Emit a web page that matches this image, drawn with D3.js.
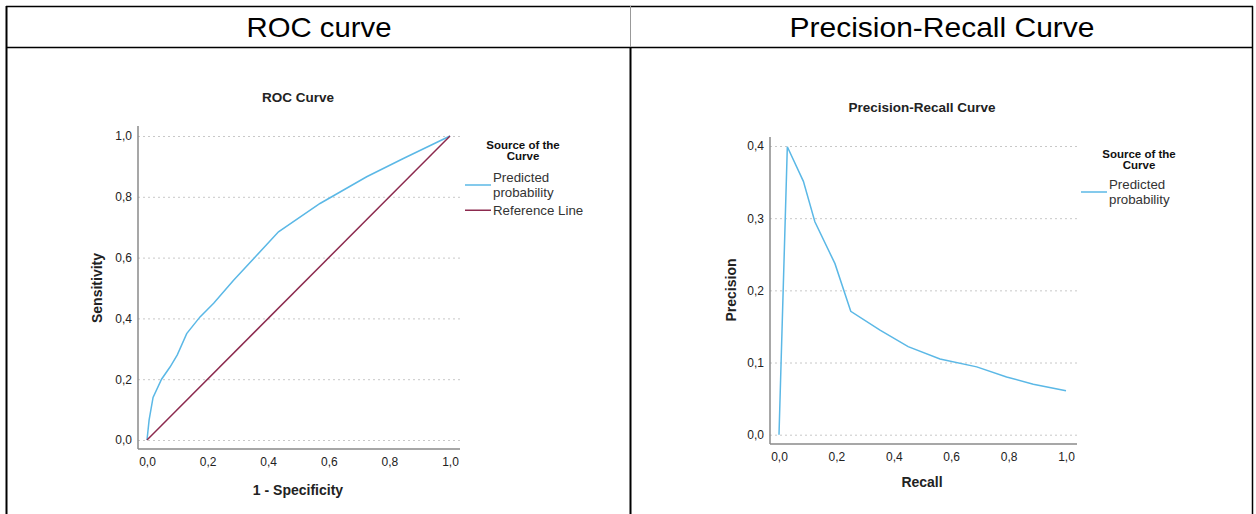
<!DOCTYPE html>
<html lang="en">
<head>
  <meta charset="UTF-8">
  <title>ROC and Precision-Recall</title>
  <script src="https://d3js.org/d3.v7.min.js"></script>
  <style>
    body { margin: 0; background: #fff; }
    text { font-family: "Liberation Sans", Arial, sans-serif; }
  </style>
</head>
<body>
<div class="main"></div>
<script>

  // ROC curve values (1 - specificity, sensitivity)
  var rocX = [0, 0.007, 0.02, 0.048, 0.076, 0.1, 0.131, 0.175, 0.22, 0.285, 0.36, 0.434, 0.571, 0.725, 0.846, 1.0];
  var rocY = [0, 0.066, 0.14, 0.2, 0.24, 0.28, 0.35, 0.405, 0.45, 0.525, 0.605, 0.685, 0.778, 0.866, 0.926, 1.0];
  var refX = [0, 1];
  var refY = [0, 1];

  // precision-recall values
  var prRecall = [0, 0.029, 0.085, 0.125, 0.195, 0.25, 0.352, 0.45, 0.561, 0.689, 0.793, 0.886, 1.0];
  var prPrecision = [0, 0.399, 0.351, 0.295, 0.237, 0.171, 0.145, 0.122, 0.105, 0.094, 0.080, 0.070, 0.061];

  var rocTicks = [0, 0.2, 0.4, 0.6, 0.8, 1.0];
  var prYTicks = [0, 0.1, 0.2, 0.3, 0.4];
  var prXTicks = [0, 0.2, 0.4, 0.6, 0.8, 1.0];

  var headers = ["ROC curve", "Precision-Recall Curve"];

  var blue = "#5bb8e6", maroon = "#8c2a4e";
  var fmt = function (d) { return d3.format(".1f")(d).replace(".", ","); };

  var svg = d3.select(".main").append("svg")
          .attr("width", 1256).attr("height", 514)
          .style("display", "block");

  // table borders
  var tbl = svg.append("g");
  tbl.append("line").attr("x1", 6).attr("x2", 1253).attr("y1", 6.5).attr("y2", 6.5).attr("stroke", "#000").attr("stroke-width", 1.5);
  tbl.append("line").attr("x1", 6).attr("x2", 1253).attr("y1", 47.5).attr("y2", 47.5).attr("stroke", "#000").attr("stroke-width", 1.5);
  tbl.append("line").attr("x1", 6.5).attr("x2", 6.5).attr("y1", 6).attr("y2", 514).attr("stroke", "#000").attr("stroke-width", 2);
  tbl.append("line").attr("x1", 1252.5).attr("x2", 1252.5).attr("y1", 6).attr("y2", 514).attr("stroke", "#000").attr("stroke-width", 1.5);
  tbl.append("line").attr("x1", 630.5).attr("x2", 630.5).attr("y1", 6).attr("y2", 47).attr("stroke", "#999").attr("stroke-width", 1);
  tbl.append("line").attr("x1", 630.5).attr("x2", 630.5).attr("y1", 47).attr("y2", 514).attr("stroke", "#000").attr("stroke-width", 2);

  tbl.selectAll(".hdr").data(headers).join("text")
          .attr("class", "hdr")
          .attr("x", function (d, i) { return i == 0 ? 319 : 942; })
          .attr("y", 37)
          .attr("text-anchor", "middle")
          .style("font-size", "28px")
          .attr("textLength", function (d, i) { return i == 0 ? 145 : 305; })
          .attr("lengthAdjust", "spacingAndGlyphs")
          .text(function (d) { return d; });

  function drawPanel(cfg) {
    var g = svg.append("g");
    var x = d3.scaleLinear().domain([0, 1]).range(cfg.xRange);
    var y = d3.scaleLinear().domain(cfg.yDomain).range(cfg.yRange);

    // dotted gridlines
    g.append("g")
            .attr("transform", "translate(" + cfg.axisX + ",0)")
            .call(d3.axisLeft(y).tickValues(cfg.yTicks).tickSize(-(cfg.gridEnd - cfg.axisX)).tickFormat(""))
            .call(function (a) { a.select(".domain").remove(); })
            .selectAll("line").attr("stroke", "#c8c8c8").attr("stroke-dasharray", "2,3");

    // y tick labels
    g.append("g")
            .attr("transform", "translate(" + (cfg.axisX - 6) + ",0)")
            .call(d3.axisLeft(y).tickValues(cfg.yTicks).tickSize(0).tickPadding(0).tickFormat(fmt))
            .call(function (a) { a.select(".domain").remove(); })
            .selectAll("text").style("font-size", "12px").attr("fill", "#222")
            .style("font-family", "'Liberation Sans', Arial, sans-serif");

    // x tick labels
    g.append("g")
            .attr("transform", "translate(0," + (cfg.axisY + 8) + ")")
            .call(d3.axisBottom(x).tickValues(cfg.xTicks).tickSize(0).tickPadding(0).tickFormat(fmt))
            .call(function (a) { a.select(".domain").remove(); })
            .selectAll("text").style("font-size", "12px").attr("fill", "#222")
            .style("font-family", "'Liberation Sans', Arial, sans-serif");

    // axis lines
    g.append("line").attr("x1", cfg.axisX).attr("x2", cfg.axisX).attr("y1", cfg.axisTop).attr("y2", cfg.axisY)
            .attr("stroke", "#8a8a8a").attr("stroke-width", 1.5);
    g.append("line").attr("x1", cfg.axisX).attr("x2", cfg.gridEnd).attr("y1", cfg.axisY).attr("y2", cfg.axisY)
            .attr("stroke", "#8a8a8a").attr("stroke-width", 1.5);

    // titles
    g.append("text").attr("x", cfg.titleX).attr("y", cfg.titleY).attr("text-anchor", "middle")
            .style("font-size", "13.5px").style("font-weight", "bold").attr("fill", "#222").text(cfg.title);
    g.append("text").attr("x", cfg.titleX).attr("y", cfg.xLabelY).attr("text-anchor", "middle")
            .style("font-size", "14px").style("font-weight", "bold").attr("fill", "#222").text(cfg.xLabel);
    g.append("text").attr("transform", "translate(" + cfg.yLabelX + "," + cfg.yLabelY + ") rotate(-90)")
            .attr("text-anchor", "middle")
            .style("font-size", "14px").style("font-weight", "bold").attr("fill", "#222").text(cfg.yLabel);

    // lines
    var line = d3.line().x(function (d) { return x(d[0]); }).y(function (d) { return y(d[1]); });
    cfg.series.forEach(function (s) {
      g.append("path").datum(d3.zip(s.xs, s.ys))
              .attr("d", line).attr("fill", "none")
              .attr("stroke", s.color).attr("stroke-width", 1.5);
    });

    // legend
    var lg = g.append("g");
    lg.append("text").attr("x", cfg.legX + 58).attr("y", cfg.legY).attr("text-anchor", "middle")
            .style("font-size", "11.5px").style("font-weight", "bold").attr("fill", "#111").text("Source of the");
    lg.append("text").attr("x", cfg.legX + 58).attr("y", cfg.legY + 11).attr("text-anchor", "middle")
            .style("font-size", "11.5px").style("font-weight", "bold").attr("fill", "#111").text("Curve");
    var ly = cfg.legY + cfg.legGap;
    cfg.series.forEach(function (s) {
      var n = s.label.length;
      lg.append("line").attr("x1", cfg.legX).attr("x2", cfg.legX + 26).attr("y1", ly).attr("y2", ly)
              .attr("stroke", s.color).attr("stroke-width", 1.5);
      s.label.forEach(function (t, k) {
        lg.append("text").attr("x", cfg.legX + 28).attr("y", ly + 4.5 + (k - (n - 1) / 2) * 14.5)
                .style("font-size", "13.3px").attr("fill", "#333").text(t);
      });
      ly += 7.25 * (n - 1) + 18;
    });
  }

  drawPanel({
    xRange: [147, 450], yDomain: [0, 1], yRange: [440, 136],
    yTicks: rocTicks, xTicks: rocTicks,
    axisX: 138, axisY: 449, axisTop: 126, gridEnd: 460,
    title: "ROC Curve", titleX: 298, titleY: 102,
    xLabel: "1 - Specificity", xLabelY: 495,
    yLabel: "Sensitivity", yLabelX: 102, yLabelY: 288,
    legX: 465, legY: 149, legGap: 36,
    series: [
      { xs: rocX, ys: rocY, color: blue, label: ["Predicted", "probability"] },
      { xs: refX, ys: refY, color: maroon, label: ["Reference Line"] }
    ]
  });

  drawPanel({
    xRange: [779, 1066], yDomain: [0, 0.4], yRange: [434.7, 146],
    yTicks: prYTicks, xTicks: prXTicks,
    axisX: 770, axisY: 444, axisTop: 137, gridEnd: 1077,
    title: "Precision-Recall Curve", titleX: 922, titleY: 112,
    xLabel: "Recall", xLabelY: 487,
    yLabel: "Precision", yLabelX: 736, yLabelY: 290,
    legX: 1081, legY: 158, legGap: 34,
    series: [
      { xs: prRecall, ys: prPrecision, color: blue, label: ["Predicted", "probability"] }
    ]
  });

</script>
</body>
</html>
